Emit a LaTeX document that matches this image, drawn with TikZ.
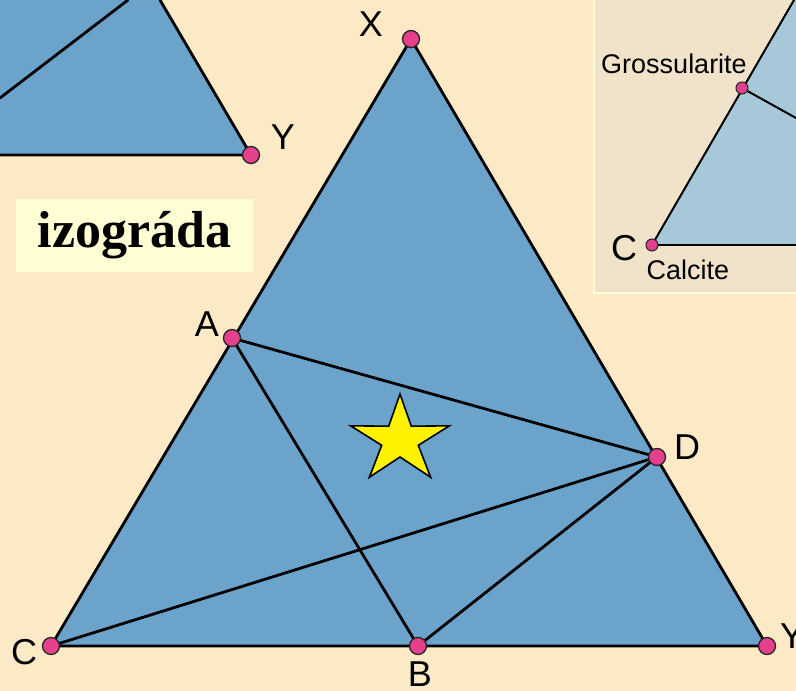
\documentclass[tikz,border=0pt]{standalone}
\usepackage{fontspec}
\setmainfont{Liberation Sans}
\newfontfamily\serifbold{Liberation Serif}
\definecolor{bgc}{HTML}{FBEAC5}
\definecolor{insetbg}{HTML}{F0E3C9}
\definecolor{tri}{HTML}{6CA3CB}
\definecolor{insettri}{HTML}{A6C8D8}
\definecolor{dotc}{HTML}{E5408C}
\definecolor{boxc}{HTML}{FFFDD3}
\begin{document}
\begin{tikzpicture}[x=1pt,y=-1pt,
  edge/.style={black,line width=2.8pt,line cap=round,line join=round},
  thinedge/.style={black,line width=2pt,line cap=round},
  pt/.style={circle,fill=dotc,draw=black!85,line width=1.3pt,inner sep=0pt,minimum size=17pt},
  smallpt/.style={circle,fill=dotc,draw=black!85,line width=1pt,inner sep=0pt,minimum size=12pt},
  lab/.style={inner sep=0pt,font=\fontsize{36}{36}\selectfont},
  ilab/.style={inner sep=0pt,font=\fontsize{27}{27}\selectfont},
  starstyle/.style={fill=yellow,draw=black,line width=1.6pt,line join=miter}]
\useasboundingbox (0,0) rectangle (796,691);
\clip (0,0) rectangle (796,691);
\fill[bgc] (0,0) rectangle (796,691);

% top-left partial triangle
\fill[tri] (0,0) -- (160,0) -- (251,155) -- (0,155) -- cycle;
\coordinate (tlA) at (0,98);
\coordinate (tlB) at (128,0);
\coordinate (tlT) at (160,0);
\coordinate (tlL) at (0,155);
\draw[edge] (tlA) -- (tlB);
\draw[edge] (tlL) -- (251,155) -- (tlT);
\node[pt] (Y1) at (251,155) {};
\node[lab] at (283,137) {Y};

% inset
\fill[insetbg] (594,0) rectangle (796,293);
\draw[boxc,line width=1.5pt] (594,-2) -- (594,293) -- (798,293);
\fill[insettri] (652,245) -- (794,0) -- (796,0) -- (796,245) -- cycle;
\coordinate (iTop) at (794,0);
\coordinate (iR) at (796,118);
\coordinate (iB) at (796,245);
\draw[thinedge] (652,245) -- (iTop);
\draw[thinedge] (742,88) -- (iR);
\draw[thinedge] (652,245) -- (iB);
\node[smallpt] (iG) at (742,88) {};
\node[smallpt] (iC) at (652,245) {};
\node[ilab] at (674,64) {Grossularite};
\node[inner sep=0pt,font=\fontsize{36}{36}\selectfont] at (624,248) {C};
\node[ilab] at (688,270) {Calcite};

% label box
\node[fill=boxc,minimum width=237pt,minimum height=73pt,inner sep=0pt,
  font=\serifbold\bfseries\fontsize{52}{52}\selectfont] (iz) at (134.5,235.5) {izográda};

% main triangle
\coordinate (X) at (411,39);
\coordinate (C) at (51,646);
\coordinate (Y) at (767,646);
\coordinate (A) at (232,338);
\coordinate (D) at (657,457);
\coordinate (B) at (418,646);
\fill[tri] (X) -- (C) -- (Y) -- cycle;
\draw[edge] (X) -- (C) -- (Y) -- cycle;
\draw[edge] (A) -- (B);
\draw[edge] (A) -- (D);
\draw[edge] (C) -- (D);
\draw[edge] (B) -- (D);

% star
\draw[starstyle] (400,394) -- (388.7,426.2) -- (350.6,425.8) -- (381.7,445.3)
  -- (369.4,477.2) -- (400,457) -- (430.6,477.2) -- (418.3,445.3)
  -- (449.4,425.8) -- (411.3,426.2) -- cycle;

\foreach \p in {X,C,Y,A,D,B} \node[pt] (n\p) at (\p) {};

\node[lab] (lX) at (371,24) {X};
\node[lab] (lA) at (207,324) {A};
\node[lab] (lD) at (687,447) {D};
\node[lab] (lC) at (24,652) {C};
\node[lab] (lB) at (420,674) {B};
\node[lab] (lY) at (792,636) {Y};
\end{tikzpicture}
\end{document}
